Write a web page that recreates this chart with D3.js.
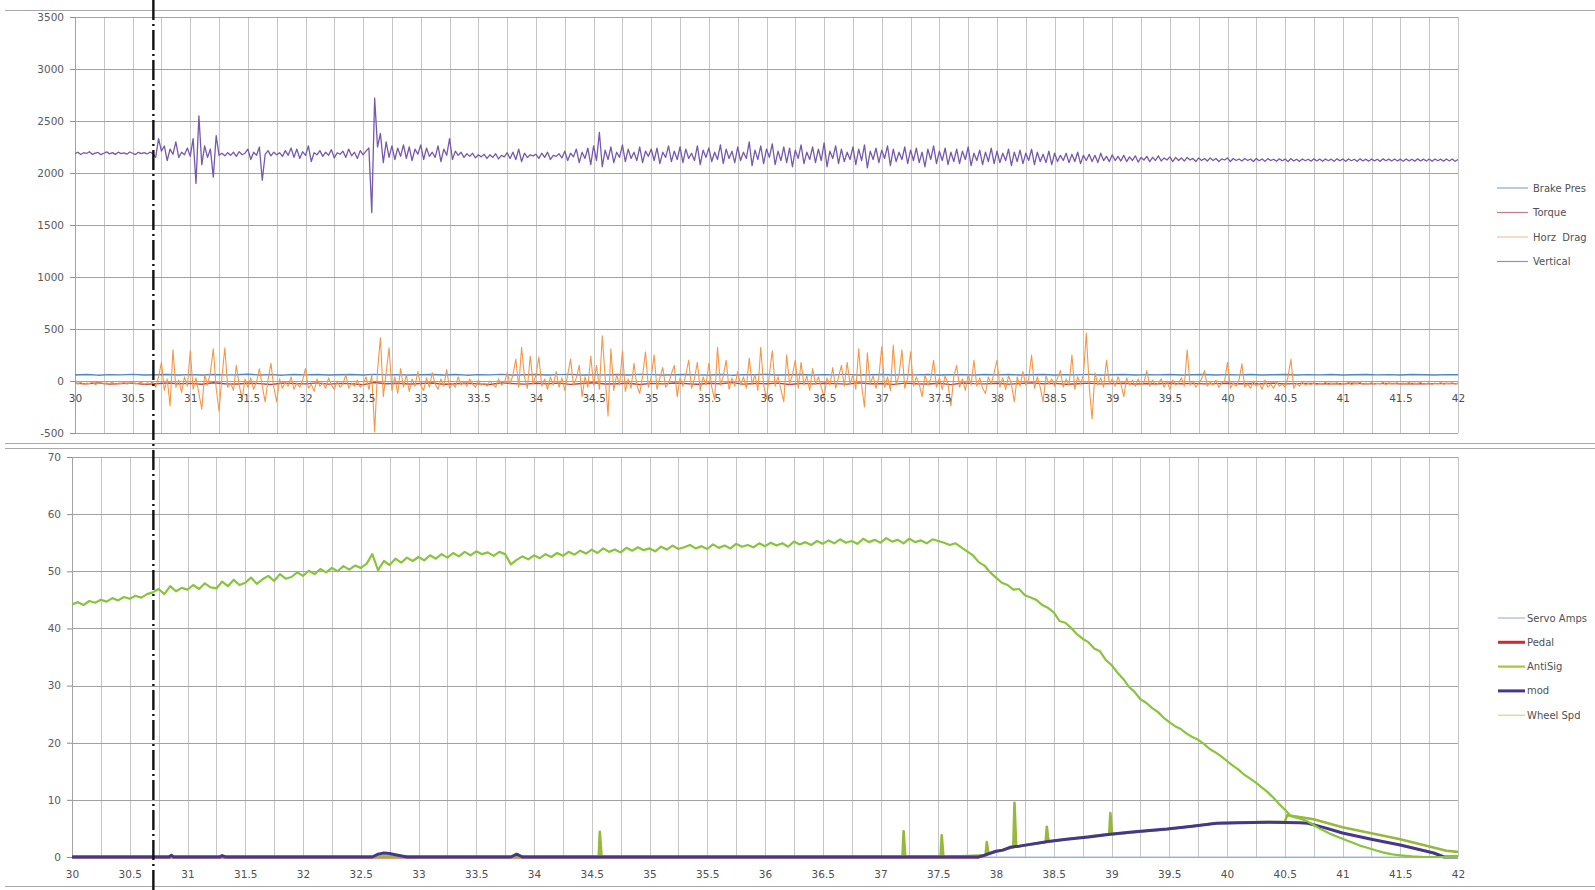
<!DOCTYPE html>
<html>
<head>
<meta charset="utf-8">
<script src="https://cdn.jsdelivr.net/npm/d3@7"></script>
<style>
html, body { margin: 0; padding: 0; background: #ffffff; }
svg { display: block; }
text { font-family: "DejaVu Sans", Verdana, sans-serif; }
</style>
</head>
<body>
<svg id="chart" width="1595" height="890"></svg>
<script>
// ---------- axis ticks ----------
const xTickLabels = [30, 30.5, 31, 31.5, 32, 32.5, 33, 33.5, 34, 34.5, 35, 35.5, 36, 36.5, 37, 37.5, 38, 38.5, 39, 39.5, 40, 40.5, 41, 41.5, 42];
const topYTicks = [-500, 0, 500, 1000, 1500, 2000, 2500, 3000, 3500];
const bottomYTicks = [0, 10, 20, 30, 40, 50, 60, 70];

// ---------- sampling ----------
const t0 = 30;
const dtFine = 0.025;   // Vertical, Horz Drag
const dtWheel = 0.05;   // Wheel Spd
const dtSlow = 0.1;     // Brake Pres, Torque
const markerTime = 30.68;

// ---------- upper panel series ----------
const brakePres = [
  58,62,56,61,59,64,57,60,63,58, 61,57,63,59,60,65,58,61,56,62,
  59,63,57,60,62,58,64,59,61,57, 60,63,58,62,56,61,59,64,57,60,
  62,58,61,63,57,60,59,62,58,64, 61,57,60,63,59,58,62,56,61,60,
  63,58,60,62,57,61,59,64,58,60, 62,57,61,59,63,58,60,61,57,62,
  59,63,58,60,62,57,61,59,64,58, 60,62,57,61,59,63,58,60,62,57,
  61,59,62,58,60,63,57,61,59,62, 58,60,63,59,61,57,62,60,58,61,
  60
];

const torque = [
  -22,-28,-18,-30,-24,-20,-32,-26,-19,-27, -23,-31,-17,-26,-29,-21,-25,-33,-20,-24,
  -28,-18,-30,-23,-26,-35,-15,-27,-22,-29, -24,-19,-31,-26,-21,-28,-33,-18,-25,-30,
  -22,-27,-20,-32,-24,-17,-29,-26,-21,-34, -23,-28,-19,-25,-31,-22,-27,-16,-30,-24,
  -26,-20,-33,-23,-28,-21,-25,-30,-18,-27, -24,-32,-20,-26,-29,-22,-35,-19,-25,-28,
  -21,-30,-24,-18,-27,-23,-31,-26,-20,-28, -25,-22,-29,-24,-27,-21,-26,-23,-28,-25,
  -22,-27,-24,-26,-21,-28,-25,-23,-27,-24, -26,-22,-28,-25,-23,-27,-24,-26,-25,-23,
  -25
];

const horzDrag = [
  -18,-28,-12,-32,-20,-25,-10,-35,-22,-15,-30,-18,-26,-8,-34,-20,-24,-14,-30,-22,
  -16,-28,-20,-12,-32,-18,-24,-10,-60,40,180,-90,20,-240,300,-60,10,-110,40,-50,
  290,-80,30,-120,-270,60,-40,90,310,-70,-290,40,320,-60,-20,-90,150,-40,-180,20,
  -60,30,-80,-10,120,-50,-200,10,170,-60,-200,20,-70,-10,-50,40,-80,-20,-60,10,
  120,-70,-30,-100,20,-50,-20,-70,30,-40,-80,0,-60,-30,60,-70,-20,-50,10,-60,
  -30,40,-80,60,-490,100,415,-150,80,320,-90,40,-120,120,-60,60,-100,20,-50,90,
  -40,-90,30,-60,80,-30,-80,20,-50,110,-70,-20,-60,40,-40,-10,-50,20,-30,-60,
  10,-40,-20,-50,0,-30,-60,20,-40,-20,80,-30,60,210,-60,325,40,-70,240,-30,
  60,230,-50,20,-80,40,-40,90,-60,30,-90,60,210,-40,30,150,-150,40,-60,240,
  -40,150,-80,435,40,-335,310,-90,60,-40,290,-100,20,-70,170,-40,-120,50,280,-60,
  40,250,-80,30,130,-60,-20,70,150,-150,30,-50,60,200,-70,20,180,-90,40,-40,
  170,-60,-180,325,-40,50,200,-80,30,-50,90,-40,40,-70,220,-30,60,-90,325,-40,
  -170,60,290,-50,40,-80,-200,250,-30,60,200,-70,180,-40,50,-90,120,-30,40,-60,
  -150,30,-40,130,-70,40,150,-50,180,-30,60,-80,310,-40,-250,270,-30,50,-70,40,
  330,-60,40,-90,345,-40,60,300,-70,30,280,-50,40,-30,-150,60,-40,20,200,-60,
  30,-80,50,-30,-240,40,150,-60,20,-90,60,-40,200,-50,30,-70,-120,40,-30,80,
  200,-60,30,-80,50,-30,-200,40,-50,90,-40,20,250,-70,40,-60,-200,50,-30,20,
  -50,30,100,-60,20,-40,250,-80,40,-30,60,460,-50,-365,80,-40,30,-60,200,-30,
  20,-50,40,-30,-150,30,-40,10,-50,20,-40,-10,100,-50,10,-40,-20,20,-60,0,
  -80,10,-40,-20,30,-50,300,-40,0,-60,-20,20,100,-50,-10,-40,10,-60,-20,0,
  180,-70,-20,-50,10,165,-60,-30,-70,0,-50,-20,-80,10,-60,-30,-70,-10,-50,-30,
  -60,40,210,-70,-20,-50,-10,-40,-25,-35,-15,-40,-20,-30,-10,-35,-22,-30,-15,-38,
  -20,-30,-12,-36,-24,-28,-10,-34,-20,-26,-14,-32,-22,-28,-12,-36,-18,-30,-24,-16,
  -32,-20,-28,-14,-34,-22,-26,-12,-30,-24,-18,-34,-20,-28,-14,-32,-22,-26,-16,-30,-20
];

const vertical = [
  2185,2200,2178,2195,2188,2205,2180,2192,2198,2176,2190,2203,2184,2196,2179,2200,2187,2194,2181,2202,
  2190,2177,2199,2186,2195,2183,2200,2188,2150,2330,2210,2260,2120,2230,2180,2300,2150,2200,2175,2240,
  2160,2330,1900,2550,2080,2260,2150,2230,1960,2360,2170,2190,2165,2195,2170,2200,2160,2205,2175,2190,
  2230,2130,2200,2170,2250,1930,2180,2215,2165,2200,2175,2195,2160,2215,2170,2240,2150,2230,2140,2205,
  2170,2260,2110,2195,2175,2215,2160,2200,2170,2225,2145,2195,2180,2210,2150,2230,2165,2200,2140,2215,
  2175,2210,2240,1620,2720,2250,2380,2100,2300,2150,2260,2130,2240,2160,2270,2140,2250,2120,2230,2180,
  2270,2130,2240,2160,2200,2150,2260,2110,2230,2170,2330,2130,2210,2170,2200,2150,2185,2160,2190,2145,
  2175,2155,2180,2140,2175,2150,2185,2135,2170,2155,2195,2140,2200,2130,2230,2110,2190,2150,2175,2165,
  2180,2140,2190,2150,2200,2130,2170,2160,2185,2145,2210,2120,2190,2155,2230,2100,2200,2140,2240,2080,
  2260,2120,2390,2060,2220,2130,2250,2100,2200,2150,2270,2110,2230,2140,2200,2120,2250,2100,2210,2160,
  2230,2120,2240,2090,2200,2150,2260,2110,2210,2130,2250,2100,2230,2140,2190,2120,2260,2080,2220,2150,
  2240,2110,2200,2130,2270,2090,2230,2140,2210,2100,2250,2120,2200,2140,2300,2070,2220,2130,2260,2090,
  2230,2150,2280,2080,2210,2120,2250,2100,2240,2060,2220,2140,2270,2090,2200,2130,2250,2100,2230,2120,
  2290,2060,2210,2140,2260,2090,2230,2110,2200,2130,2250,2080,2230,2120,2270,2050,2210,2130,2240,2100,
  2220,2140,2260,2070,2230,2110,2200,2130,2250,2090,2220,2120,2240,2100,2200,2060,2230,2130,2260,2090,
  2210,2120,2240,2080,2200,2110,2230,2090,2210,2130,2250,2070,2190,2120,2220,2080,2200,2110,2240,2090,
  2210,2100,2190,2120,2230,2070,2200,2110,2220,2090,2190,2120,2230,2080,2200,2110,2180,2100,2210,2080,
  2190,2110,2170,2120,2190,2100,2180,2110,2200,2090,2170,2120,2180,2110,2170,2100,2190,2120,2160,2110,
  2175,2120,2160,2115,2170,2110,2155,2120,2165,2105,2150,2125,2160,2110,2150,2120,2165,2115,2145,2125,
  2155,2110,2150,2120,2145,2115,2150,2125,2140,2110,2145,2120,2140,2115,2145,2120,2140,2110,2135,2125,
  2145,2110,2140,2120,2135,2115,2140,2120,2135,2110,2140,2118,2135,2112,2138,2120,2132,2114,2136,2118,
  2134,2110,2138,2116,2132,2112,2135,2118,2132,2114,2136,2116,2134,2112,2135,2118,2133,2113,2136,2117,
  2134,2112,2135,2118,2132,2113,2136,2116,2133,2114,2135,2117,2132,2112,2136,2118,2133,2115,2134,2116,
  2133,2113,2135,2117,2132,2114,2136,2116,2133,2115,2134,2112,2135,2118,2133,2114,2135,2116,2134,2113,2130
];

// ---------- lower panel series ----------
const servoAmpsT = [30, 42];
const servoAmpsV = [0, 0];

const pedalT = [30, 37.85];
const pedalV = [0, 0];

const antiSigT = [30, 34.56, 34.57, 34.585, 37.19, 37.2, 37.215, 37.52, 37.53, 37.545,
  37.91, 37.92, 37.935, 38.15, 38.16, 38.175, 38.43, 38.44, 38.455, 38.61,
  38.98, 38.99, 39.005, 39.5, 39.9, 40.3, 40.5, 40.52, 40.6, 40.75, 41.0, 41.5, 41.9, 42];
const antiSigV = [0, 0, 4.4, 0, 0, 4.5, 0, 0, 3.8, 0,
  0.3, 2.6, 0.6, 1.7, 9.5, 1.8, 2.6, 5.3, 2.7, 3.1,
  4.0, 7.7, 4.0, 4.9, 5.9, 6.1, 6.1, 7.3, 7.1, 6.6, 5.2, 3.1, 1.1, 0.9];

const modT = [30, 30.84, 30.86, 30.88, 31.28, 31.3, 31.33, 32.6, 32.65, 32.7, 32.75, 32.8, 32.9,
  33.8, 33.85, 33.9, 37.85, 37.9, 38.0, 38.06, 38.12, 38.2, 38.32, 38.45, 38.61, 38.8,
  38.99, 39.2, 39.48, 39.7, 39.91, 40.1, 40.35, 40.63, 40.7, 40.85, 41.0, 41.25, 41.5, 41.79, 41.88, 42];
const modV = [0, 0, 0.3, 0, 0, 0.25, 0, 0, 0.5, 0.7, 0.6, 0.4, 0,
  0, 0.5, 0, 0, 0.3, 1.0, 1.2, 1.7, 1.9, 2.3, 2.7, 3.1, 3.5,
  4.0, 4.4, 4.9, 5.4, 5.9, 6.0, 6.1, 6.0, 5.9, 5.1, 4.2, 3.1, 2.1, 0.7, 0, 0];

const wheelSpd = [
  44.2,44.6,44.1,44.8,44.5,45.0,44.7,45.3,44.9,45.5, 45.2,45.7,45.4,46.0,46.3,46.9,46.0,47.4,46.5,47.1,
  46.8,47.6,46.9,47.9,47.2,47.0,48.2,47.4,48.5,47.6, 48.0,48.9,47.8,48.6,49.2,48.3,49.5,48.7,49.0,49.8,
  49.2,50.1,49.5,50.4,49.8,50.6,50.0,50.9,50.3,51.0, 50.6,51.3,53.0,50.2,51.8,51.1,52.2,51.5,52.4,51.8,
  52.5,51.9,52.8,52.2,53.0,52.4,53.2,52.6,53.4,52.8, 53.5,53.0,53.3,52.7,53.4,53.0,51.2,52.0,52.6,52.1,
  52.8,52.3,53.0,52.5,53.2,52.7,53.4,52.9,53.6,53.1, 53.8,53.2,54.0,53.4,53.8,53.3,54.1,53.6,54.2,53.7,
  54.0,53.5,54.3,53.8,54.5,53.9,54.2,54.6,54.0,54.4, 53.9,54.7,54.1,54.5,54.0,54.8,54.3,54.6,54.2,54.9,
  54.4,55.0,54.5,54.9,54.3,55.2,54.7,55.1,54.6,55.3, 54.8,55.4,54.9,55.6,55.0,55.3,54.8,55.7,55.1,55.5,
  55.0,55.8,55.2,55.5,54.9,55.7,55.1,55.4,54.9,55.6, 55.3,55.0,54.6,54.9,54.2,53.5,52.8,51.6,51.0,49.8,
  48.9,48.0,47.6,46.8,46.9,45.8,45.4,45.0,44.1,43.6, 42.8,41.3,41.0,40.1,39.0,38.2,37.6,36.5,36.0,34.5,
  33.6,32.3,31.2,29.8,28.9,27.6,27.0,26.1,25.4,24.4, 23.6,22.9,22.4,21.6,21.0,20.5,19.8,18.9,18.3,17.6,
  16.8,16.0,15.3,14.4,13.7,13.0,12.2,11.4,10.4,9.3, 8.3,7.2,6.9,6.6,6.2,5.6,5.0,4.5,4.0,3.6,
  3.2,2.8,2.4,2.0,1.7,1.4,1.1,0.8,0.6,0.4, 0.3,0.2,0.1,0.05,0,0,0,0,0,0,0
];

// ---------- helpers ----------
const sampled = (vals, dt) => vals.map((v, i) => [t0 + i * dt, v]);
const paired = (ts, vs) => ts.map((t, i) => [t, vs[i]]);

const svg = d3.select("#chart");
const W = 1595, H = 890;

// panel frames
const panels = [
  {
    id: "upper", left: 75, right: 1458, top: 17, bottom: 433,
    yDomain: [-500, 3500], yTicks: topYTicks,
    series: [
      { name: "Brake Pres", data: sampled(brakePres, dtSlow), color: "#4f86c6", width: 1.4, legendColor: "#8aa7cc", legendWidth: 1.2 },
      { name: "Torque", data: sampled(torque, dtSlow), color: "#b8423f", width: 1.4, legendColor: "#c47b86", legendWidth: 1.2 },
      { name: "Horz  Drag", data: sampled(horzDrag, dtFine), color: "#f79646", width: 1.1, legendColor: "#f6c49c", legendWidth: 1.2 },
      { name: "Vertical", data: sampled(vertical, dtFine), color: "#7559ad", width: 1.3, legendColor: "#9a8db8", legendWidth: 1.2 }
    ],
    legend: { x1: 1497, x2: 1528, tx: 1533, y0: 188, dy: 24.5 }
  },
  {
    id: "lower", left: 72, right: 1458, top: 457, bottom: 857,
    yDomain: [0, 70], yTicks: bottomYTicks,
    series: [
      { name: "Servo Amps", data: paired(servoAmpsT, servoAmpsV), color: "#a3b9dc", width: 1.2, legendColor: "#a7b6cc", legendWidth: 1.2 },
      { name: "Pedal", data: paired(pedalT, pedalV), color: "#d8262e", width: 3, legendColor: "#d8262e", legendWidth: 3 },
      { name: "AntiSig", data: paired(antiSigT, antiSigV), color: "#97b83a", width: 2.6, legendColor: "#a9c43a", legendWidth: 2.2 },
      { name: "mod", data: paired(modT, modV), color: "#45388a", width: 3, legendColor: "#45388a", legendWidth: 3 },
      { name: "Wheel Spd", data: sampled(wheelSpd, dtWheel), color: "#88c43c", width: 2.2, legendColor: "#c6dc8e", legendWidth: 1.2 }
    ],
    legend: { x1: 1498, x2: 1525, tx: 1527, y0: 618, dy: 24.3 }
  }
];

// separator rules between the panels
const rules = [10, 443, 448, 886];
svg.append("g").selectAll("line").data(rules).join("line")
  .attr("x1", 5).attr("x2", W)
  .attr("y1", d => d + 0.5).attr("y2", d => d + 0.5)
  .attr("stroke", "#a9a9a9").attr("stroke-width", 1);

const defs = svg.append("defs");

panels.forEach(p => {
  const x = d3.scaleLinear().domain([30, 42]).range([p.left, p.right]);
  const y = d3.scaleLinear().domain(p.yDomain).range([p.bottom, p.top]);
  const g = svg.append("g").attr("class", p.id);

  // vertical gridlines every 0.25 s
  const gridT = d3.range(30, 42.0001, 0.25);
  g.append("g").selectAll("line").data(gridT).join("line")
    .attr("x1", d => Math.round(x(d)) + 0.5).attr("x2", d => Math.round(x(d)) + 0.5)
    .attr("y1", p.top).attr("y2", p.bottom)
    .attr("stroke", "#c6c6c6").attr("stroke-width", 1);

  // horizontal gridlines
  g.append("g").selectAll("line").data(p.yTicks).join("line")
    .attr("x1", p.left).attr("x2", p.right)
    .attr("y1", d => Math.round(y(d)) + 0.5).attr("y2", d => Math.round(y(d)) + 0.5)
    .attr("stroke", "#a2a2a2").attr("stroke-width", 1);

  // y axis labels and tick marks (plain hyphen for negatives)
  const yAxis = g.append("g")
    .attr("transform", `translate(${p.left},0)`)
    .call(d3.axisLeft(y).tickValues(p.yTicks).tickSize(5).tickPadding(6).tickFormat(d => String(d)));
  yAxis.select(".domain").attr("stroke", "#a2a2a2");
  yAxis.selectAll(".tick line").attr("stroke", "#8c8c8c");
  yAxis.selectAll("text").attr("fill", "#5a5a5a").style("font-size", "10.5px");

  // series, clipped to the plot area
  const clipId = "clip-" + p.id;
  defs.append("clipPath").attr("id", clipId).append("rect")
    .attr("x", p.left).attr("y", p.top - 2)
    .attr("width", p.right - p.left).attr("height", p.bottom - p.top + 4);

  const line = d3.line().x(d => x(d[0])).y(d => y(d[1]));
  const sg = g.append("g").attr("clip-path", `url(#${clipId})`);
  p.series.forEach(s => {
    sg.append("path").datum(s.data)
      .attr("d", line)
      .attr("fill", "none")
      .attr("stroke", s.color)
      .attr("stroke-width", s.width)
      .attr("stroke-linejoin", "round");
  });

  // x axis labels sit just below the zero line
  const xAxis = g.append("g")
    .attr("transform", `translate(0,${y(0)})`)
    .call(d3.axisBottom(x).tickValues(xTickLabels).tickSize(0).tickPadding(14).tickFormat(d => String(d)));
  xAxis.select(".domain").remove();
  xAxis.selectAll("text").attr("fill", "#505050").style("font-size", "10.5px");

  // legend
  const L = p.legend;
  const lg = g.append("g").selectAll("g").data(p.series).join("g")
    .attr("transform", (d, i) => `translate(0,${L.y0 + i * L.dy})`);
  lg.append("line")
    .attr("x1", L.x1).attr("x2", L.x2).attr("y1", 0).attr("y2", 0)
    .attr("stroke", d => d.legendColor).attr("stroke-width", d => d.legendWidth);
  lg.append("text")
    .attr("x", L.tx).attr("y", 0).attr("dy", "0.35em")
    .attr("fill", "#505050").style("font-size", "10px")
    .style("white-space", "pre")
    .text(d => d.name);
});

// dash-dot time marker across both panels
const xm = d3.scaleLinear().domain([30, 42]).range([75, 1458]);
svg.append("line")
  .attr("x1", xm(markerTime)).attr("x2", xm(markerTime))
  .attr("y1", 0).attr("y2", H)
  .attr("stroke", "#111111").attr("stroke-width", 2.4)
  .attr("stroke-dasharray", "20,4,2,4");
</script>
</body>
</html>
